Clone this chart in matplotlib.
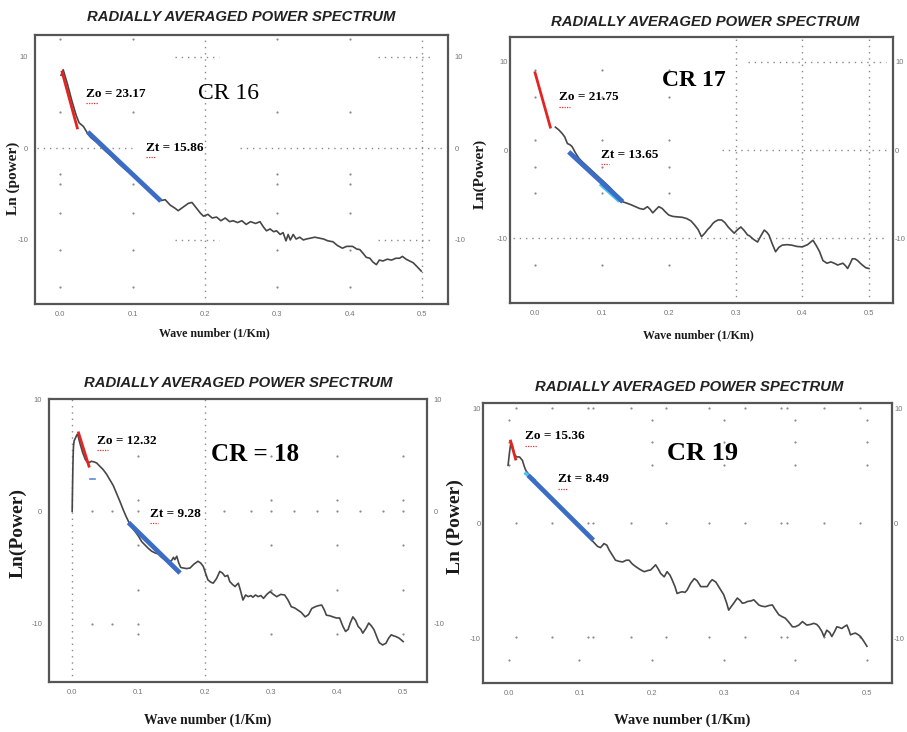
import numpy as np
import matplotlib
matplotlib.use("Agg")
import matplotlib.pyplot as plt

# ---- data ----
title = "RADIALLY AVERAGED POWER SPECTRUM"
x_ticks = [0.0, 0.1, 0.2, 0.3, 0.4, 0.5]
x_tick_labels = ["0.0", "0.1", "0.2", "0.3", "0.4", "0.5"]
y_ticks = [-10, 0, 10]
y_tick_labels = ["-10", "0", "10"]
names = ["CR 16", "CR 17", "CR = 18", "CR 19"]
zo_values = ["23.17", "21.75", "12.32", "15.36"]
zt_values = ["15.86", "13.65", "9.28", "8.49"]
y_labels = ["Ln (power)", "Ln(Power)", "Ln(Power)", "Ln (Power)"]

cr16_k = [0.001, 0.004, 0.01, 0.016, 0.022, 0.026, 0.032, 0.038, 0.042, 0.05,
          0.06, 0.07, 0.08, 0.09, 0.1, 0.11, 0.12, 0.13, 0.139, 0.145,
          0.152, 0.158, 0.163, 0.17, 0.177, 0.182, 0.188, 0.194, 0.198, 0.204,
          0.21, 0.216, 0.222, 0.228, 0.234, 0.239, 0.245, 0.251, 0.257, 0.263,
          0.27, 0.276, 0.281, 0.285, 0.29, 0.295, 0.299, 0.304, 0.308, 0.312,
          0.315, 0.318, 0.322, 0.326, 0.331, 0.336, 0.34, 0.346, 0.352, 0.358,
          0.364, 0.37, 0.377, 0.383, 0.39, 0.396, 0.404, 0.41, 0.414, 0.419,
          0.423, 0.428, 0.432, 0.437, 0.441, 0.446, 0.452, 0.458, 0.464, 0.469,
          0.473, 0.478, 0.483, 0.488, 0.493, 0.499]
cr16_p = [8.0, 8.6, 7.0, 5.2, 3.6, 2.8, 2.4, 1.6, 1.2, 0.7,
          -0.1, -0.8, -1.6, -2.3, -2.9, -3.6, -4.3, -5.0, -5.7, -5.6,
          -6.2, -6.5, -6.8, -6.4, -6.0, -5.9, -6.5, -7.1, -7.4, -7.2,
          -7.6, -7.5, -7.9, -7.6, -8.0, -7.9, -8.1, -7.9, -8.3, -8.0,
          -8.2, -8.0, -8.6, -9.0, -8.8, -9.1, -9.0, -9.4, -9.2, -10.1,
          -9.4, -10.0, -9.4, -9.9, -9.7, -10.0, -9.9, -9.8, -9.7, -9.8,
          -9.9, -10.1, -10.2, -10.6, -10.9, -10.7, -10.7, -11.0, -11.05, -11.5,
          -11.9, -12.0, -12.4, -12.7, -12.2, -12.3, -12.1, -12.2, -12.0, -12.0,
          -11.8, -12.1, -12.3, -12.5, -12.9, -13.4]

cr17_k = [0.030, 0.035, 0.040, 0.044, 0.048, 0.052, 0.055, 0.06, 0.065, 0.07,
          0.08, 0.09, 0.1, 0.11, 0.12, 0.131, 0.137, 0.144, 0.15, 0.156,
          0.162, 0.168, 0.172, 0.176, 0.181, 0.185, 0.19, 0.195, 0.2, 0.206,
          0.212, 0.22, 0.227, 0.233, 0.239, 0.244, 0.249, 0.254, 0.258, 0.262,
          0.266, 0.269, 0.274, 0.279, 0.284, 0.289, 0.294, 0.298, 0.303, 0.308,
          0.313, 0.318, 0.321, 0.327, 0.333, 0.338, 0.343, 0.347, 0.35, 0.355,
          0.36, 0.365, 0.37, 0.377, 0.384, 0.392, 0.4, 0.408, 0.416, 0.421,
          0.426, 0.431, 0.437, 0.443, 0.448, 0.453, 0.457, 0.461, 0.465, 0.468,
          0.472, 0.475, 0.479, 0.483, 0.487, 0.49, 0.495, 0.5]
cr17_p = [2.6, 2.3, 1.9, 1.5, 0.75, 0.6, 0.4, -0.3, -0.9, -1.3,
          -2.0, -2.7, -3.4, -4.1, -4.9, -5.85, -6.0, -6.2, -6.4, -6.6,
          -6.7, -6.4, -6.7, -7.1, -6.7, -6.4, -6.6, -7.0, -7.35, -7.5,
          -7.55, -7.6, -7.75, -8.0, -8.5, -9.0, -9.8, -9.4, -9.0, -8.7,
          -8.3, -8.1, -7.9, -7.9, -8.2, -8.7, -9.1, -9.4, -9.0, -8.7,
          -9.1, -9.6, -9.7, -10.1, -10.4, -9.7, -9.05, -9.3, -9.6, -10.6,
          -11.5, -11.0, -10.75, -10.7, -10.75, -10.9, -10.95, -10.7, -10.2, -10.8,
          -11.5, -12.5, -12.8, -12.65, -12.8, -13.0, -12.9, -12.8, -13.1, -13.4,
          -12.8, -12.3, -12.3, -12.5, -12.8, -13.0, -13.3, -13.4]

cr18_k = [0.0, 0.0005, 0.001, 0.0015, 0.002, 0.003, 0.004, 0.0055, 0.0075, 0.009,
          0.012, 0.016, 0.02, 0.024, 0.029, 0.033, 0.037, 0.042, 0.047, 0.052,
          0.057, 0.062, 0.067, 0.072, 0.077, 0.081, 0.085, 0.09, 0.095, 0.1,
          0.105, 0.11, 0.115, 0.12, 0.125, 0.13, 0.135, 0.14, 0.145, 0.15,
          0.153, 0.155, 0.158, 0.161, 0.164, 0.168, 0.173, 0.178, 0.184, 0.19,
          0.194, 0.198, 0.202, 0.205, 0.209, 0.213, 0.218, 0.223, 0.227, 0.231,
          0.235, 0.238, 0.242, 0.246, 0.251, 0.254, 0.258, 0.262, 0.266, 0.27,
          0.273, 0.277, 0.281, 0.285, 0.289, 0.294, 0.299, 0.304, 0.309, 0.315,
          0.321, 0.326, 0.331, 0.336, 0.341, 0.346, 0.352, 0.357, 0.362, 0.367,
          0.372, 0.377, 0.381, 0.384, 0.389, 0.394, 0.399, 0.404, 0.409, 0.413,
          0.417, 0.42, 0.424, 0.428, 0.432, 0.436, 0.439, 0.444, 0.448, 0.452,
          0.456, 0.459, 0.462, 0.464, 0.469, 0.474, 0.478, 0.482, 0.486, 0.489,
          0.494, 0.5]
cr18_p = [0.0, 2.0, 3.7, 5.0, 5.8, 6.3, 6.4, 6.6, 6.85, 6.7,
          6.0, 5.2, 4.6, 4.3, 4.45, 4.4, 4.3, 4.0, 3.7, 3.3,
          2.8, 2.3, 1.6, 0.9, 0.15, -0.4, -0.9, -1.4, -1.8, -2.2,
          -2.7, -3.0, -3.3, -3.55, -3.7, -3.8, -4.1, -4.3, -4.5, -4.4,
          -4.1, -4.3, -4.0, -4.6, -5.0, -5.05, -5.1, -5.05, -4.7, -4.45,
          -4.6, -4.9, -5.6, -6.1, -6.3, -6.4, -6.0, -5.35, -5.5, -5.8,
          -5.7, -6.25, -6.5, -6.7, -6.4, -7.0, -7.9, -7.45, -7.6, -7.5,
          -7.65, -7.45, -7.6, -7.5, -7.75, -7.4, -7.15, -7.4, -7.6, -7.4,
          -7.45, -7.9, -8.5, -8.6, -8.8, -9.0, -9.4, -9.2, -8.65, -8.5,
          -8.4, -8.35, -8.8, -9.25, -9.3, -9.4, -9.5, -9.5, -10.25, -10.7,
          -10.5, -9.95, -9.4, -9.7, -10.25, -10.5, -10.85, -10.4, -9.95, -10.2,
          -10.55, -11.0, -11.45, -11.7, -11.9, -11.75, -11.3, -11.0, -11.1, -11.15,
          -11.3, -11.6]

cr19_k = [-0.001, 0.001, 0.003, 0.005, 0.008, 0.011, 0.015, 0.019, 0.022, 0.024,
          0.03, 0.04, 0.05, 0.06, 0.07, 0.08, 0.09, 0.1, 0.11, 0.118,
          0.124, 0.128, 0.133, 0.137, 0.14, 0.145, 0.149, 0.154, 0.159, 0.164,
          0.168, 0.172, 0.177, 0.183, 0.189, 0.194, 0.198, 0.202, 0.205, 0.209,
          0.212, 0.217, 0.221, 0.225, 0.228, 0.232, 0.235, 0.239, 0.242, 0.246,
          0.249, 0.254, 0.259, 0.263, 0.268, 0.272, 0.277, 0.281, 0.284, 0.289,
          0.293, 0.297, 0.3, 0.304, 0.307, 0.311, 0.314, 0.319, 0.323, 0.326,
          0.33, 0.333, 0.338, 0.342, 0.346, 0.349, 0.353, 0.358, 0.363, 0.368,
          0.372, 0.377, 0.381, 0.386, 0.391, 0.396, 0.4, 0.405, 0.41, 0.413,
          0.416, 0.421, 0.426, 0.43, 0.433, 0.437, 0.44, 0.444, 0.448, 0.451,
          0.455, 0.458, 0.461, 0.465, 0.468, 0.472, 0.475, 0.477, 0.481, 0.484,
          0.488, 0.491, 0.495, 0.5]
cr19_p = [5.07, 6.2, 7.1, 6.8, 6.0, 5.8, 5.8, 5.5, 4.9, 4.6,
          4.1, 3.4, 2.8, 2.2, 1.6, 0.9, 0.2, -0.4, -1.0, -1.6,
          -2.0, -2.1, -1.75, -1.9, -2.3, -2.8, -3.2, -3.3, -3.35, -3.2,
          -3.2, -3.5, -3.75, -4.0, -4.2, -4.1, -4.05, -3.8, -3.6, -4.0,
          -4.35, -4.65, -4.2, -4.5, -4.9, -5.5, -6.1, -6.0, -5.95, -6.0,
          -5.8, -5.2, -4.8, -5.0, -5.5, -5.5, -5.5, -5.1, -4.9, -5.1,
          -5.5, -5.9, -6.2, -6.9, -7.55, -7.2, -6.95, -6.5, -6.7, -6.95,
          -6.9, -6.8, -6.75, -6.65, -6.9, -7.1, -7.2, -7.25, -7.15, -7.1,
          -7.5, -7.95, -8.1, -8.25, -8.6, -9.0, -9.0, -8.85, -8.55, -8.7,
          -8.85, -8.8, -8.7, -8.8, -9.0, -9.4, -9.85, -9.3, -9.5, -9.85,
          -9.4, -9.0, -9.05, -9.15, -9.0, -8.85, -9.3, -9.7, -9.6, -9.55,
          -9.7, -9.85, -10.2, -10.7]

# fitted segments: deep source (red) and shallow/top (blue)
zo_fit_k = [[0.002, 0.024], [-0.001, 0.023], [0.009, 0.026], [0.002, 0.010]]
zo_fit_p = [[8.5, 2.1], [8.9, 2.45], [7.1, 3.9], [7.3, 5.5]]
zt_fit_k = [[0.038, 0.139], [0.050, 0.131], [0.085, 0.163], [0.027, 0.118]]
zt_fit_p = [[1.8, -5.75], [-0.2, -5.85], [-1.0, -5.5], [4.2, -1.45]]
# light blue bits showing below the blue fit line
cyan_k = [None, [0.099, 0.124], None, [0.024, 0.035]]
cyan_p = [None, [-3.96, -5.66], None, [4.35, 3.8]]

curves_k = [cr16_k, cr17_k, cr18_k, cr19_k]
curves_p = [cr16_p, cr17_p, cr18_p, cr19_p]

W, H = 907, 732
SERIF = "Liberation Serif"
SANS = "Liberation Sans"


def px(x, y):
    return x / W, 1 - y / H


def dotted_grid(ax, i):
    st = dict(color="#8a8a8a", lw=1.0, ls=(0, (1, 3.5)), zorder=1)
    dot = dict(color="#8a8a8a", s=2.5, lw=0, zorder=1)
    if i == 0:
        for xv in [0.2, 0.5]:
            ax.axvline(xv, **st)
        ax.plot([-0.032, 0.099], [0, 0], **st)
        ax.plot([0.248, 0.533], [0, 0], **st)
        for yv in [10, -10]:
            ax.plot([0.159, 0.22], [yv, yv], **st)
            ax.plot([0.439, 0.512], [yv, yv], **st)
        gx, gy = np.meshgrid([0.0, 0.1, 0.3, 0.4], [12.0, 3.95, -2.8, -3.9, -7.0, -11.06, -15.1])
        ax.scatter(gx.ravel(), gy.ravel(), **dot)
    elif i == 1:
        for xv in [0.3, 0.4, 0.5]:
            ax.axvline(xv, **st)
        ax.plot([0.318, 0.525], [10, 10], **st)
        ax.plot([0.279, 0.527], [0, 0], **st)
        ax.plot([-0.033, 0.527], [-10, -10], **st)
        gx, gy = np.meshgrid([0.0, 0.1, 0.2], [9.06, 6.04, 1.13, -1.89, -4.9, -13.0])
        ax.scatter(gx.ravel(), gy.ravel(), **dot)
    elif i == 2:
        for xv in [0.0, 0.2]:
            ax.axvline(xv, **st)
        gx, gy = np.meshgrid([0.1, 0.3, 0.4, 0.5], [4.9, 1.0, -3.0, -7.0, -10.9])
        ax.scatter(gx.ravel(), gy.ravel(), **dot)
        row = [0.03, 0.06, 0.1, 0.23, 0.27, 0.3, 0.335, 0.37, 0.4, 0.435, 0.47, 0.5]
        ax.scatter(row, [0] * len(row), **dot)
        ax.scatter([0.03, 0.06, 0.1], [-10, -10, -10], **dot)
    else:
        row = [0.01, 0.06, 0.11, 0.118, 0.17, 0.22, 0.28, 0.33, 0.38, 0.388, 0.44, 0.49]
        for yv in [10.1, 0, -9.9]:
            ax.scatter(row, [yv] * len(row), **dot)
        gx, gy = np.meshgrid([0.0, 0.2, 0.3, 0.4, 0.5], [9.0, 7.1, 5.1, -11.9])
        ax.scatter(gx.ravel(), gy.ravel(), **dot)
        ax.scatter([0.098], [-11.9], **dot)


def squiggle(ax, x0, y0, width):
    # the red spell-check underline under Zo / Zt
    ax.plot([x0, x0 + width], [y0, y0], color="#e03030", lw=0.9,
            ls=(0, (1, 1)), zorder=5, clip_on=False)


fig = plt.figure(figsize=(W / 100, H / 100), dpi=100)

# axes rectangles in pixels: left, top, right, bottom
boxes = [(35, 35, 448, 304), (510, 37, 893, 303), (49, 399, 427, 682), (483, 403, 892, 683)]
xlims = [(-0.035, 0.536), (-0.038, 0.536), (-0.035, 0.536), (-0.036, 0.535)]
ylims = [(-17.0, 12.4), (-17.3, 12.8), (-15.2, 10.0), (-13.9, 10.5)]
titles_at = [(241, 17), (705, 22), (238, 383), (689, 387)]
xlab_at = [(214, 333, 8.6), (698, 335, 8.6), (208, 720, 9.8), (682, 720, 10.5)]
ylab_at = [(13, 178, 11), (480, 174, 11), (18, 533, 14), (455, 527, 14)]
zo_at = [(0.036, 6.0), (0.036, 5.96), (0.038, 6.3), (0.023, 7.6)]
zt_at = [(0.119, 0.1), (0.098, -0.5), (0.117, -0.2), (0.069, 3.9)]
name_at = [(0.191, 6.0, 17, "normal"), (0.19, 7.9, 17, "bold"),
           (0.21, 5.06, 18, "bold"), (0.221, 6.14, 19, "bold")]

for i in range(4):
    l, t, r, b = boxes[i]
    ax = fig.add_axes([l / W, 1 - b / H, (r - l) / W, (b - t) / H])
    ax.set_xlim(*xlims[i])
    ax.set_ylim(*ylims[i])
    for s in ax.spines.values():
        s.set_color("#555555")
        s.set_linewidth(1.6)

    ax.set_xticks(x_ticks)
    ax.set_xticklabels(x_tick_labels)
    ax.set_yticks(y_ticks)
    ax.set_yticklabels(y_tick_labels)
    ax.tick_params(axis="both", length=0, labelsize=5.5, labelcolor="#777777",
                   pad=5, labelright=True, right=False)
    if i in (1, 3):
        # right-hand panels sit against the picture edge
        ax.tick_params(axis="y", which="both", pad=1.5)
    for lab in ax.get_xticklabels() + ax.get_yticklabels():
        lab.set_family(SANS)

    dotted_grid(ax, i)

    ax.plot(curves_k[i], curves_p[i], color="#474747", lw=1.2, zorder=3)
    ax.plot(zo_fit_k[i], zo_fit_p[i], color="#e52421", lw=2.0, zorder=4,
            solid_capstyle="butt")
    if cyan_k[i] is not None:
        ax.plot(cyan_k[i], cyan_p[i], color="#49c4f0", lw=2.6, zorder=4)
    ax.plot(zt_fit_k[i], zt_fit_p[i], color="#3b6cc6", lw=3.4, zorder=4,
            solid_capstyle="butt")
    if i == 2:
        ax.plot([0.027, 0.034], [2.9, 2.9], color="#5a8ad6", lw=1.2, zorder=4)

    zx, zy = zo_at[i]
    ax.text(zx, zy, "Zo = " + zo_values[i], family=SERIF, weight="bold",
            fontsize=9.5, va="center", ha="left", zorder=6)
    squiggle(ax, zx, zy - (ylims[i][1] - ylims[i][0]) * 0.035, 0.016)
    tx, ty = zt_at[i]
    ax.text(tx, ty, "Zt = " + zt_values[i], family=SERIF, weight="bold",
            fontsize=9.5, va="center", ha="left", zorder=6)
    squiggle(ax, tx, ty - (ylims[i][1] - ylims[i][0]) * 0.035, 0.013)

    nx, ny, nsize, nweight = name_at[i]
    ax.text(nx, ny, names[i], family=SERIF, weight=nweight, fontsize=nsize,
            va="center", ha="left", zorder=6)

    cx, cy = titles_at[i]
    fig.text(*px(cx, cy), title, family=SANS, weight="bold", style="italic",
             fontsize=10.7, color="#222222", ha="center", va="center")
    lx, ly, ls_ = xlab_at[i]
    fig.text(*px(lx, ly), "Wave number (1/Km)", family=SERIF, weight="bold",
             fontsize=ls_, ha="center", va="center", color="#1a1a1a")
    yx, yy, ys_ = ylab_at[i]
    fig.text(*px(yx, yy), y_labels[i], family=SERIF, weight="bold",
             fontsize=ys_, rotation=90, ha="center", va="center", color="#1a1a1a")

fig.savefig("out.png", dpi=100)
